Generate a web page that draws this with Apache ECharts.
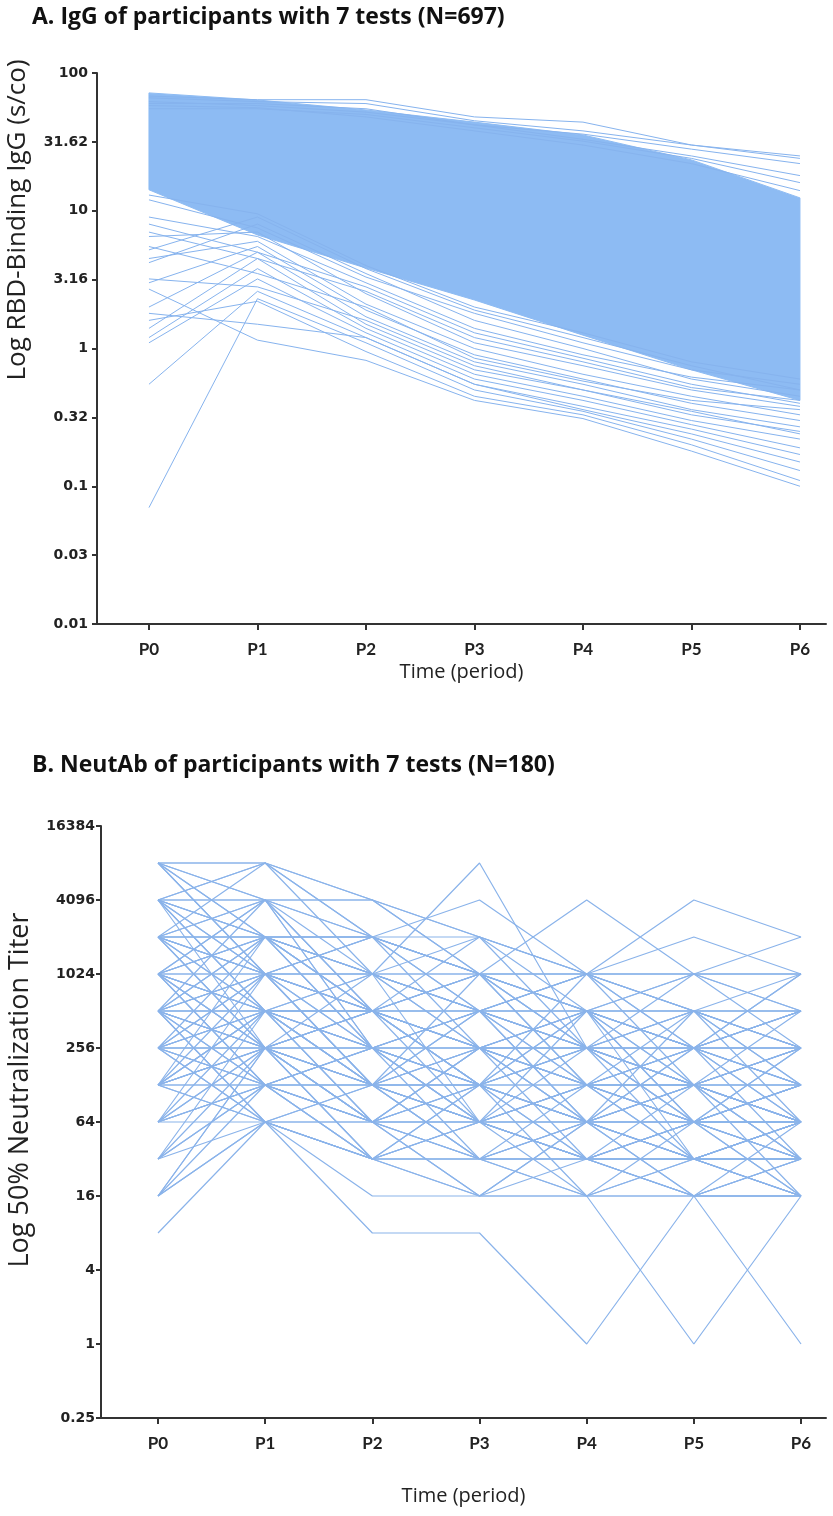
<!DOCTYPE html>
<html>
<head>
<meta charset="utf-8">
<script src="https://cdn.jsdelivr.net/npm/echarts@6/dist/echarts.min.js"></script>
<style>
  html, body { margin: 0; padding: 0; background: #fff; }
  #chart { width: 833px; height: 1516px; }
</style>
</head>
<body>
<div id="chart"></div>
<script>
// time periods
var periods = ['P0', 'P1', 'P2', 'P3', 'P4', 'P5', 'P6'];

// panel A tick labels (log10 axis, half-decade steps)
var igTicks = ['0.01', '0.03', '0.1', '0.32', '1', '3.16', '10', '31.62', '100'];
// panel B tick labels (log2 axis, steps of 4x)
var neutTicks = ['0.25', '1', '4', '16', '64', '256', '1024', '4096', '16384'];

// panel A: the dense core of the 697 curves (upper / lower edge, s/co)
var igBandTop    = [71.7, 63.7, 53.9, 44.0, 35.5, 23.4, 12.4];
var igBandBottom = [14.2, 6.67, 3.84, 2.25, 1.25, 0.70, 0.42];

// panel A: single curves standing out above the core
var igUpperLines = [
  [68, 64, 64, 48, 44, 30, 25],
  [66, 62, 60, 45, 38, 30, 24],
  [60, 60, 55, 42, 36, 28, 22],
  [62, 58, 52, 42, 33, 25, 18],
  [55, 55, 50, 40, 32, 24, 16],
  [58, 56, 48, 38, 30, 22, 14]
];

// panel A: single curves below the core
var igLowerLines = [
  [2.7, 1.15, 0.82, 0.42, 0.31, 0.18, 0.10],
  [1.6, 2.2, 0.95, 0.45, 0.33, 0.20, 0.11],
  [0.07, 2.3, 1.1, 0.50, 0.35, 0.22, 0.13],
  [0.55, 2.6, 1.2, 0.55, 0.36, 0.24, 0.15],
  [1.1, 3.2, 1.3, 0.60, 0.42, 0.28, 0.19],
  [1.2, 3.8, 1.4, 0.65, 0.45, 0.30, 0.22],
  [1.4, 4.5, 1.5, 0.70, 0.50, 0.33, 0.25],
  [2.0, 5.0, 1.7, 0.80, 0.55, 0.36, 0.27],
  [3.0, 5.5, 1.9, 0.90, 0.60, 0.40, 0.30],
  [4.5, 6.0, 2.1, 1.0, 0.65, 0.45, 0.33],
  [5.5, 3.5, 2.0, 0.85, 0.58, 0.42, 0.36],
  [6.5, 7.0, 2.5, 1.1, 0.75, 0.50, 0.38],
  [3.2, 2.8, 1.6, 0.75, 0.50, 0.35, 0.24],
  [8.0, 5.0, 2.8, 1.3, 0.85, 0.55, 0.40],
  [1.8, 1.5, 1.2, 0.55, 0.38, 0.26, 0.17],
  [4.2, 8.0, 3.5, 1.6, 1.0, 0.60, 0.45],
  [9.0, 6.5, 3.0, 1.4, 0.90, 0.62, 0.50],
  [12, 7.5, 3.3, 1.8, 1.1, 0.70, 0.55],
  [5.2, 9.0, 3.8, 1.9, 1.2, 0.75, 0.50],
  [7.0, 4.5, 2.6, 1.2, 0.80, 0.52, 0.42],
  [13, 9.5, 4.0, 2.0, 1.3, 0.80, 0.60]
];

// panel B: 50% neutralization titers per participant, P0..P6
var neutLines = [
  [8192, 8192, 4096, 2048, 1024, 512, 512],
  [8192, 8192, 2048, 1024, 512, 256, 256],
  [8192, 4096, 4096, 1024, 1024, 1024, 1024],
  [8192, 2048, 1024, 512, 512, 256, 128],
  [8192, 1024, 512, 256, 256, 128, 64],
  [4096, 8192, 2048, 2048, 1024, 512, 256],
  [4096, 8192, 1024, 8192, 256, 128, 128],
  [4096, 4096, 4096, 2048, 512, 512, 256],
  [4096, 2048, 2048, 4096, 1024, 512, 512],
  [4096, 1024, 1024, 512, 256, 256, 128],
  [4096, 512, 512, 256, 128, 128, 64],
  [2048, 4096, 2048, 1024, 4096, 1024, 512],
  [2048, 2048, 2048, 1024, 1024, 4096, 2048],
  [2048, 2048, 1024, 512, 512, 256, 256],
  [2048, 1024, 512, 1024, 512, 512, 256],
  [2048, 512, 256, 256, 128, 128, 128],
  [2048, 256, 128, 128, 64, 64, 32],
  [2048, 4096, 1024, 512, 1024, 1024, 2048],
  [1024, 1024, 1024, 1024, 1024, 1024, 1024],
  [1024, 2048, 1024, 512, 256, 256, 256],
  [1024, 512, 256, 512, 256, 128, 128],
  [1024, 256, 512, 256, 256, 64, 64],
  [1024, 1024, 512, 256, 128, 256, 128],
  [1024, 128, 128, 64, 64, 64, 32],
  [1024, 4096, 2048, 1024, 512, 256, 512],
  [1024, 2048, 512, 256, 512, 1024, 1024],
  [512, 1024, 512, 512, 256, 128, 256],
  [512, 512, 256, 128, 128, 64, 64],
  [512, 256, 256, 256, 128, 128, 64],
  [512, 2048, 1024, 1024, 512, 512, 512],
  [512, 128, 64, 64, 32, 32, 32],
  [512, 512, 512, 256, 256, 512, 256],
  [512, 1024, 256, 128, 64, 128, 64],
  [512, 64, 32, 32, 32, 16, 16],
  [256, 512, 256, 256, 128, 64, 128],
  [256, 256, 128, 128, 64, 64, 64],
  [256, 1024, 512, 256, 256, 128, 64],
  [256, 128, 256, 128, 64, 128, 64],
  [256, 512, 128, 64, 64, 32, 32],
  [256, 64, 64, 32, 16, 32, 16],
  [256, 256, 512, 256, 512, 256, 512],
  [128, 256, 128, 64, 64, 32, 32],
  [128, 512, 256, 128, 128, 256, 128],
  [128, 128, 64, 64, 32, 32, 16],
  [128, 1024, 512, 512, 256, 256, 256],
  [128, 64, 32, 16, 16, 16, 16],
  [128, 256, 256, 128, 256, 128, 64],
  [64, 64, 32, 32, 32, 32, 32],
  [64, 256, 64, 64, 32, 64, 32],
  [64, 128, 128, 64, 32, 16, 32],
  [64, 512, 128, 128, 64, 64, 64],
  [32, 128, 64, 32, 32, 32, 16],
  [32, 64, 16, 16, 16, 16, 16],
  [32, 256, 128, 64, 32, 32, 64],
  [16, 64, 32, 64, 32, 16, 32],
  [16, 128, 64, 32, 16, 1, 16],
  [16, 64, 64, 16, 32, 16, 1],
  [8, 64, 8, 8, 1, 16, 16],
  [16, 256, 128, 128, 64, 32, 64],
  [4096, 2048, 1024, 2048, 1024, 2048, 1024],
  [2048, 1024, 2048, 1024, 512, 1024, 512],
  [1024, 512, 1024, 512, 1024, 512, 1024],
  [512, 256, 512, 1024, 512, 256, 512],
  [256, 128, 128, 256, 128, 64, 128],
  [128, 256, 64, 128, 64, 128, 64],
  [64, 128, 32, 64, 128, 64, 128],
  [1024, 512, 128, 32, 64, 32, 64],
  [2048, 512, 128, 256, 64, 32, 16],
  [512, 256, 64, 128, 32, 64, 32],
  [256, 128, 32, 32, 64, 32, 32],
  [128, 64, 128, 32, 128, 32, 16],
  [8192, 4096, 512, 128, 256, 64, 128],
  [4096, 4096, 256, 64, 128, 128, 256],
  [2048, 1024, 256, 32, 32, 64, 64],
  [1024, 256, 64, 16, 64, 128, 32],
  [512, 64, 32, 128, 16, 64, 128],
  [4096, 2048, 512, 512, 1024, 256, 1024],
  [8192, 2048, 2048, 512, 256, 512, 256],
  [4096, 1024, 2048, 512, 512, 128, 256],
  [2048, 8192, 4096, 1024, 256, 256, 512],
  [2048, 256, 512, 128, 256, 128, 64],
  [1024, 2048, 2048, 256, 128, 64, 128],
  [1024, 512, 512, 128, 512, 256, 64],
  [1024, 128, 64, 128, 64, 16, 32],
  [512, 2048, 512, 64, 128, 128, 32],
  [512, 128, 256, 64, 32, 64, 128],
  [512, 1024, 1024, 256, 64, 32, 64],
  [256, 2048, 256, 512, 128, 256, 128],
  [256, 64, 128, 256, 32, 128, 256],
  [256, 512, 512, 128, 32, 64, 16],
  [128, 512, 64, 256, 256, 64, 32],
  [128, 2048, 256, 64, 512, 128, 512],
  [128, 128, 256, 512, 128, 32, 64],
  [64, 1024, 128, 32, 64, 256, 64],
  [64, 128, 256, 64, 16, 32, 64],
  [32, 512, 64, 256, 64, 16, 64],
  [32, 128, 32, 128, 256, 128, 32],
  [16, 256, 32, 64, 128, 64, 16],
  [4096, 512, 1024, 256, 512, 64, 256],
  [2048, 2048, 512, 2048, 256, 128, 256],
  [1024, 4096, 512, 1024, 128, 512, 128],
  [512, 512, 128, 512, 1024, 256, 1024],
  [256, 1024, 128, 1024, 256, 1024, 256],
  [128, 512, 512, 1024, 128, 256, 512],
  [64, 256, 512, 128, 1024, 128, 64],
  [2048, 1024, 128, 64, 256, 32, 64],
  [1024, 256, 128, 512, 64, 512, 128],
  [512, 256, 1024, 64, 128, 64, 256],
  [256, 256, 64, 256, 512, 64, 64],
  [128, 256, 32, 16, 64, 128, 16],
  [8192, 1024, 2048, 1024, 256, 512, 64],
  [4096, 256, 256, 512, 64, 256, 32],
  [512, 4096, 256, 128, 512, 32, 32]
];

var colorA = '#8dbbf3';
var colorALine = '#86b3ee';
var colorB = '#8ab3ea';
var axisColor = '#333';
var tickFont = "'DejaVu Sans', Arial, sans-serif";
var labelFont = "Lato, 'Open Sans', sans-serif";
var textFont = "'Open Sans', Lato, sans-serif";

var chart = echarts.init(document.getElementById('chart'), null, { renderer: 'canvas' });

function lineSeries(vals, axis, logFn, color, w) {
  return {
    type: 'line',
    xAxisIndex: axis,
    yAxisIndex: axis,
    data: vals.map(function (v, i) { return [i, logFn(v)]; }),
    symbol: 'none',
    showSymbol: false,
    silent: true,
    animation: false,
    lineStyle: { width: w, color: color },
    z: 3
  };
}

var series = [];

// core band of panel A
series.push({
  type: 'custom',
  xAxisIndex: 0,
  yAxisIndex: 0,
  silent: true,
  animation: false,
  clip: true,
  z: 2,
  encode: { x: 0, y: [1, 2] },
  data: igBandTop.map(function (v, i) {
    return [i, Math.log10(v), Math.log10(igBandBottom[i])];
  }),
  renderItem: function (params, api) {
    if (params.dataIndex !== 0) return;
    var pts = [];
    for (var i = 0; i < igBandTop.length; i++) {
      pts.push(api.coord([i, Math.log10(igBandTop[i])]));
    }
    for (var j = igBandBottom.length - 1; j >= 0; j--) {
      pts.push(api.coord([j, Math.log10(igBandBottom[j])]));
    }
    return {
      type: 'polygon',
      shape: { points: pts },
      style: { fill: colorA, stroke: colorA, lineWidth: 1 }
    };
  }
});

igUpperLines.forEach(function (l) { series.push(lineSeries(l, 0, Math.log10, colorALine, 1)); });
igLowerLines.forEach(function (l) { series.push(lineSeries(l, 0, Math.log10, colorALine, 1)); });
neutLines.forEach(function (l) { series.push(lineSeries(l, 1, Math.log2, colorB, 1.2)); });

function xAxisOf(gridIndex, min, max, gap) {
  return {
    type: 'value',
    gridIndex: gridIndex,
    min: min,
    max: max,
    name: 'Time (period)',
    nameLocation: 'middle',
    nameGap: gap,
    nameTextStyle: { fontFamily: textFont, fontSize: 20, color: '#222' },
    splitLine: { show: false },
    axisLine: { show: true, onZero: false, lineStyle: { color: axisColor, width: 2 } },
    axisTick: { show: true, length: 6, customValues: [0, 1, 2, 3, 4, 5, 6], lineStyle: { color: axisColor, width: 2 } },
    axisLabel: {
      customValues: [0, 1, 2, 3, 4, 5, 6],
      formatter: function (v) { return periods[Math.round(v)]; },
      fontFamily: labelFont, fontWeight: 'bold', fontSize: 17, color: '#222', margin: 17
    }
  };
}

function yAxisOf(gridIndex, min, max, step, labels, margin) {
  return {
    type: 'value',
    gridIndex: gridIndex,
    min: min,
    max: max,
    interval: step,
    splitLine: { show: false },
    axisLine: { show: true, onZero: false, lineStyle: { color: axisColor, width: 2 } },
    axisTick: { show: true, length: 5, lineStyle: { color: axisColor, width: 2 } },
    axisLabel: {
      formatter: function (v) { return labels[Math.round((v - min) / step)]; },
      fontFamily: tickFont, fontWeight: 'bold', fontSize: 14, color: '#222', margin: margin
    }
  };
}

var option = {
  backgroundColor: '#fff',
  animation: false,
  grid: [
    { left: 97, top: 73, width: 729, height: 551 },
    { left: 101, top: 826, width: 725, height: 592 }
  ],
  xAxis: [
    xAxisOf(0, -0.479, 6.24, 38),
    xAxisOf(1, -0.532, 6.233, 68)
  ],
  yAxis: [
    yAxisOf(0, -2, 2, 0.5, igTicks, 9),
    yAxisOf(1, -2, 14, 2, neutTicks, 6)
  ],
  graphic: [
    {
      type: 'text', left: 32, top: 6,
      style: { text: 'A. IgG of participants with 7 tests (N=697)', font: 'bold 23px ' + textFont, fill: '#111' }
    },
    {
      type: 'text', left: 32, top: 754,
      style: { text: 'B. NeutAb of participants with 7 tests (N=180)', font: 'bold 23px ' + textFont, fill: '#111' }
    },
    {
      type: 'text', x: 18, y: 220, rotation: Math.PI / 2,
      style: { text: 'Log RBD-Binding IgG (s/co)', font: '26px ' + textFont, fill: '#222', align: 'center', verticalAlign: 'middle' }
    },
    {
      type: 'text', x: 20, y: 1090, rotation: Math.PI / 2,
      style: { text: 'Log 50% Neutralization Titer', font: '27px ' + textFont, fill: '#222', align: 'center', verticalAlign: 'middle' }
    }
  ],
  series: series
};

chart.setOption(option);
</script>
</body>
</html>
